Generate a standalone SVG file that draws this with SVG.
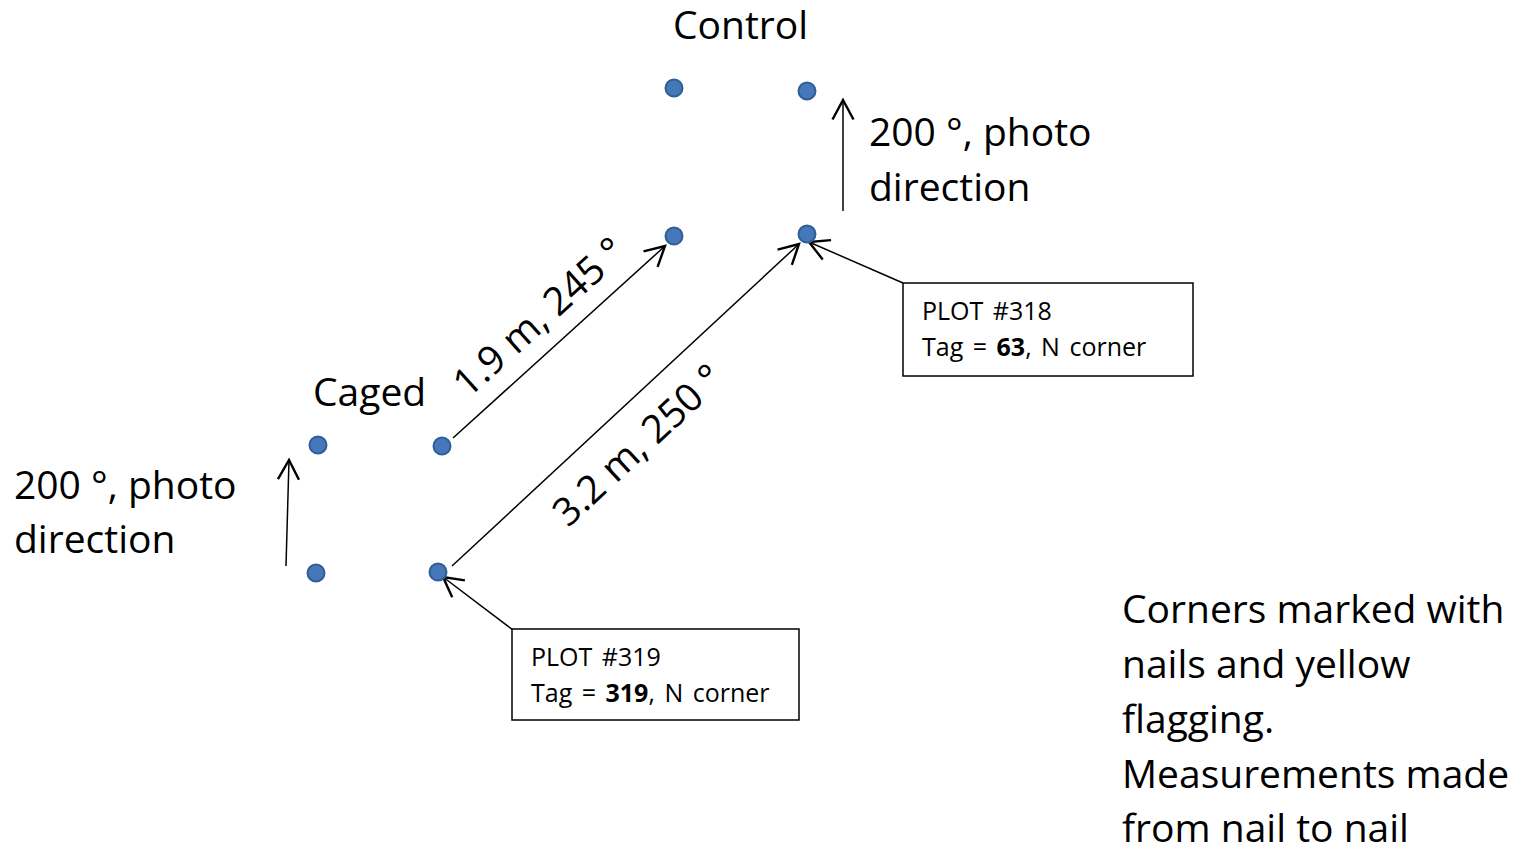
<svg xmlns="http://www.w3.org/2000/svg" width="1528" height="849" viewBox="0 0 1528 849">
  <style>
    .lbl { font-family: "Open Sans", "Liberation Sans", sans-serif; font-size: 39px; fill: #000; }
    .box-txt { font-family: "Open Sans", "Liberation Sans", sans-serif; font-size: 25px; word-spacing: 3px; fill: #000; }
    .dot { fill: #4677b8; stroke: #2f5f98; stroke-width: 2; }
    .box { fill: #fff; stroke: #000; stroke-width: 1.5; }
    .link { fill: none; stroke: #000; stroke-width: 1.5; marker-end: url(#open-arrow); }
  </style>
  <defs>
    <marker id="open-arrow" markerUnits="userSpaceOnUse" markerWidth="30" markerHeight="30" viewBox="-16 -10 20 20" refX="0" refY="0" orient="auto">
      <path d="M-13,-7 L0,0 L-13,7" fill="none" stroke="#000" stroke-width="1.6"/>
    </marker>
  </defs>
  <rect width="1528" height="849" fill="#fff"/>

  <!-- connectors -->
  <g id="connectors">
    <line class="link" x1="286" y1="566" x2="289" y2="460"/>
    <line class="link" x1="843" y1="211" x2="843" y2="100"/>
    <line class="link" x1="453" y1="438" x2="665" y2="246"/>
    <line class="link" x1="452" y1="566" x2="799" y2="244"/>
    <line class="link" x1="903" y1="283" x2="809" y2="242"/>
    <line class="link" x1="513" y1="630" x2="443" y2="577"/>
  </g>

  <!-- control plot corners -->
  <g id="control">
    <text class="lbl" x="673" y="39">Control</text>
    <circle class="dot" cx="674" cy="88" r="8.5"/>
    <circle class="dot" cx="807" cy="91" r="8.5"/>
    <circle class="dot" cx="674" cy="236" r="8.5"/>
    <circle class="dot" cx="807" cy="234" r="8.5"/>
  </g>

  <!-- caged plot corners -->
  <g id="caged">
    <text class="lbl" x="313" y="406">Caged</text>
    <circle class="dot" cx="318" cy="445" r="8.5"/>
    <circle class="dot" cx="442" cy="446" r="8.5"/>
    <circle class="dot" cx="316" cy="573" r="8.5"/>
    <circle class="dot" cx="438" cy="572" r="8.5"/>
  </g>

  <!-- photo directions -->
  <g id="photo-right">
    <text class="lbl" x="869" y="146">200 °, photo</text>
    <text class="lbl" x="869" y="201">direction</text>
  </g>
  <g id="photo-left">
    <text class="lbl" x="14" y="499">200 °, photo</text>
    <text class="lbl" x="14" y="553">direction</text>
  </g>

  <!-- measurement labels -->
  <g id="measure-short">
    <text class="lbl" text-anchor="middle" transform="translate(548,327) rotate(-42)">1.9 m, 245 °</text>
  </g>
  <g id="measure-long">
    <text class="lbl" text-anchor="middle" transform="translate(647,455) rotate(-43)">3.2 m, 250 °</text>
  </g>

  <!-- plot callouts -->
  <g id="plot-318">
    <rect class="box" x="903" y="283" width="290" height="93"/>
    <text class="box-txt" x="922" y="320">PLOT #318</text>
    <text class="box-txt" x="922" y="356">Tag = <tspan font-weight="bold">63</tspan>, N corner</text>
  </g>
  <g id="plot-319">
    <rect class="box" x="512" y="629" width="287" height="91"/>
    <text class="box-txt" x="531" y="666">PLOT #319</text>
    <text class="box-txt" x="531" y="702">Tag = <tspan font-weight="bold">319</tspan>, N corner</text>
  </g>

  <!-- notes -->
  <g id="notes">
    <text class="lbl" x="1122" y="623">Corners marked with</text>
    <text class="lbl" x="1122" y="678">nails and yellow</text>
    <text class="lbl" x="1122" y="733">flagging.</text>
    <text class="lbl" x="1122" y="788">Measurements made</text>
    <text class="lbl" x="1122" y="842">from nail to nail</text>
  </g>
</svg>
